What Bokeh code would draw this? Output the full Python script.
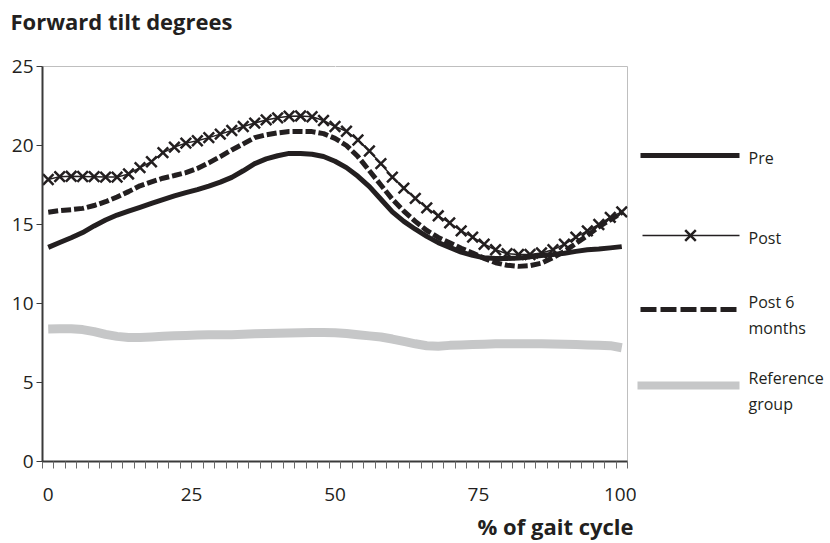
from bokeh.plotting import figure
from bokeh.models import Range1d, FixedTicker, Title, LinearAxis
from bokeh.layouts import row
from bokeh.embed import file_html
from bokeh.resources import INLINE
from bokeh.core.properties import value

# ---------------- data ----------------
gait_pct = list(range(0, 101, 2))

pre = [13.55, 13.86, 14.16, 14.49, 14.91, 15.28, 15.6, 15.85, 16.09, 16.33,
       16.57, 16.81, 17.02, 17.21, 17.43, 17.68, 17.98, 18.4, 18.85, 19.15,
       19.35, 19.5, 19.5, 19.45, 19.3, 19.0, 18.6, 18.05, 17.4, 16.6,
       15.8, 15.2, 14.7, 14.25, 13.85, 13.55, 13.25, 13.05, 12.9, 12.85,
       12.85, 12.88, 12.95, 13.04, 13.1, 13.18, 13.3, 13.4, 13.45, 13.52, 13.6]

post = [17.85, 18.03, 18.05, 18.04, 18.03, 18.0, 18.0, 18.2, 18.6, 18.97,
        19.55, 19.9, 20.15, 20.3, 20.5, 20.72, 20.95, 21.2, 21.42, 21.62,
        21.75, 21.85, 21.87, 21.82, 21.58, 21.2, 20.9, 20.35, 19.65, 18.85,
        18.0, 17.3, 16.65, 16.05, 15.55, 15.1, 14.6, 14.2, 13.75, 13.4,
        13.15, 13.1, 13.1, 13.2, 13.4, 13.75, 14.2, 14.6, 15.0, 15.45, 15.8]

post6 = [15.78, 15.88, 15.94, 16.02, 16.2, 16.44, 16.74, 17.08, 17.45, 17.7,
         17.93, 18.1, 18.28, 18.55, 18.9, 19.3, 19.72, 20.1, 20.5, 20.68,
         20.8, 20.88, 20.89, 20.88, 20.75, 20.45, 20.0, 19.3, 18.4, 17.5,
         16.6, 15.85, 15.2, 14.62, 14.18, 13.85, 13.5, 13.2, 12.85, 12.58,
         12.42, 12.35, 12.4, 12.55, 12.9, 13.3, 13.8, 14.3, 14.85, 15.3, 15.75]

reference = [8.38, 8.4, 8.4, 8.35, 8.22, 8.05, 7.92, 7.85, 7.85, 7.88,
             7.92, 7.96, 7.98, 8.0, 8.02, 8.02, 8.03, 8.05, 8.08, 8.1,
             8.12, 8.14, 8.15, 8.16, 8.16, 8.15, 8.1, 8.02, 7.95, 7.88,
             7.75, 7.6, 7.45, 7.33, 7.3, 7.35, 7.38, 7.4, 7.42, 7.45,
             7.45, 7.45, 7.45, 7.45, 7.44, 7.42, 7.4, 7.38, 7.35, 7.33, 7.2]

x_tick_values = [0, 25, 50, 75, 100]
x_tick_labels = ["0", "25", "50", "75", "100"]
y_tick_values = [0, 5, 10, 15, 20, 25]
series_names = ["Pre", "Post", "Post 6\nmonths", "Reference\ngroup"]
title_text = "Forward tilt degrees"
x_title = "% of gait cycle"

# ---------------- styles ----------------
FONT = "Open Sans"
INK = "#231f20"
GREY = "#c6c7c8"


def spacer_axis(size):
    # an invisible axis whose only job is to reserve `size` pixels of room
    return LinearAxis(ticker=FixedTicker(ticks=[50], minor_ticks=[]),
                      major_label_overrides={50: ""},
                      major_label_text_font_size="1px",
                      axis_line_color=None, major_tick_line_color="white",
                      minor_tick_line_color=None, major_tick_out=size, major_tick_in=0,
                      minor_tick_out=0, minor_tick_in=0, major_label_standoff=0)


p = figure(width=636, height=543, output_backend="svg", toolbar_location=None,
           title_location=None,
           x_range=Range1d(-1, 101), y_range=Range1d(0, 25),
           min_border_left=42, min_border_right=9, min_border_top=66, min_border_bottom=82)
p.background_fill_color = "white"
p.border_fill_color = "white"
p.outline_line_color = "#bfbfbf"
p.outline_line_width = 1
p.xgrid.visible = False
p.ygrid.visible = False

# axes
minor = [t - 1 for t in range(0, 103, 2)]
p.xaxis.ticker = FixedTicker(ticks=x_tick_values, minor_ticks=minor)
p.xaxis.major_label_overrides = {v: l for v, l in zip(x_tick_values, x_tick_labels)}
p.xaxis.axis_line_color = "#3a3a3a"
p.xaxis.axis_line_width = 2
p.xaxis.major_tick_line_color = None
p.xaxis.major_tick_out = 7
p.xaxis.major_tick_in = 0
p.xaxis.minor_tick_line_color = "#6a6a6a"
p.xaxis.minor_tick_line_width = 1
p.xaxis.minor_tick_out = 7
p.xaxis.minor_tick_in = 0
p.xaxis.major_label_standoff = 19
p.xaxis.major_label_text_font = FONT
p.xaxis.major_label_text_font_size = "19px"
p.xaxis.major_label_text_color = INK

p.yaxis.ticker = FixedTicker(ticks=y_tick_values, minor_ticks=[])
p.yaxis.axis_line_color = "#3a3a3a"
p.yaxis.axis_line_width = 2
p.yaxis.major_tick_line_color = "#3a3a3a"
p.yaxis.major_tick_out = 6
p.yaxis.major_tick_in = 0
p.yaxis.minor_tick_line_color = None
p.yaxis.major_label_standoff = 3
p.yaxis.major_label_text_font = FONT
p.yaxis.major_label_text_font_size = "19px"
p.yaxis.major_label_text_color = INK

# series
p.line(gait_pct, reference, line_color=GREY, line_width=9, line_join="round")
p.line(gait_pct, pre, line_color=INK, line_width=5, line_join="round")
p.line(gait_pct, post6, line_color=INK, line_width=5, line_dash="10 3")
p.line(gait_pct, post, line_color=INK, line_width=1.5)
p.scatter(gait_pct, post, marker="x", size=15, line_color=INK, line_width=2.5)

# titles (spacer axes hold them at the right distance from the frame)
p.add_layout(spacer_axis(31), "above")
p.add_layout(Title(text=title_text, align="left", offset=-32, standoff=0,
                   text_font=FONT, text_font_style="bold", text_font_size="22px",
                   text_color=INK), "above")
p.add_layout(spacer_axis(5), "below")
p.add_layout(Title(text=x_title, align="right", offset=-6, standoff=0,
                   text_font=FONT, text_font_style="bold", text_font_size="22px",
                   text_color=INK), "below")

# ---------------- legend panel (frame aligned with the plot frame) ----------------
lg = figure(width=192, height=543, output_backend="svg", toolbar_location=None,
            title_location=None,
            x_range=Range1d(0, 192), y_range=Range1d(0, 395),
            min_border_left=0, min_border_right=0,
            min_border_top=66, min_border_bottom=82)
lg.axis.visible = False
lg.xgrid.visible = False
lg.ygrid.visible = False
lg.outline_line_color = None
lg.background_fill_color = "white"
lg.border_fill_color = "white"

lg.line([4, 103], [306, 306], line_color=INK, line_width=5)
lg.line([6, 103], [226, 226], line_color=INK, line_width=1.5)
lg.scatter([54], [226], marker="x", size=15, line_color=INK, line_width=2.5)
lg.line([4, 101], [152, 152], line_color=INK, line_width=5, line_dash="16 4")
lg.line([1, 103], [76, 76], line_color=GREY, line_width=8)

text_x = 112
name_lines = [series_names[0], series_names[1]] + series_names[2].split("\n") + series_names[3].split("\n")
name_y = [304, 224, 160, 134, 84, 58]
lg.text([text_x] * len(name_lines), name_y, text=name_lines,
        text_font=value(FONT), text_font_size="16px", text_color=INK,
        text_baseline="middle", text_align="left")

layout = row(p, lg, spacing=0)
open("out.html", "w").write(file_html(layout, INLINE))
